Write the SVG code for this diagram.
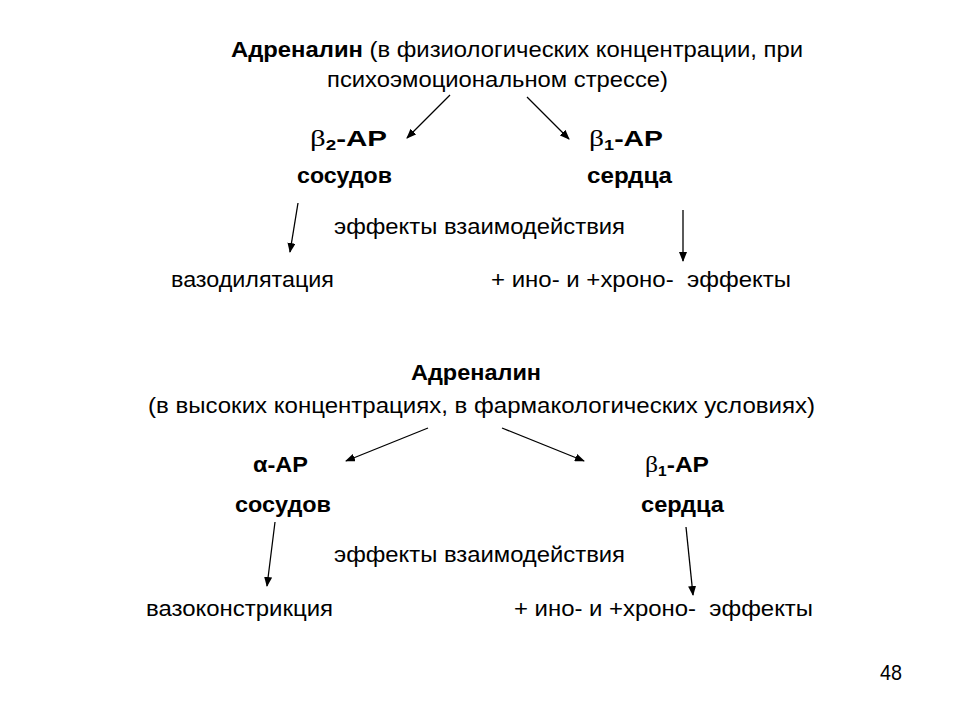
<svg xmlns="http://www.w3.org/2000/svg" width="960" height="720" viewBox="0 0 960 720">
<style>
text{font-family:"Liberation Sans",Arial,sans-serif;font-size:22px;fill:#000}
.b{font-weight:bold}
.g{font-family:"Liberation Serif","Times New Roman",serif;font-weight:normal;font-size:23px}
.s{font-size:14px}
.c line{stroke:#000;stroke-width:1.3;marker-end:url(#ah)}
</style>
<defs>
<marker id="ah" markerWidth="10" markerHeight="8" refX="9" refY="4" orient="auto" markerUnits="userSpaceOnUse">
<path d="M0,0 L10,4 L0,8 Z" fill="#000"/>
</marker>
</defs>
<rect width="960" height="720" fill="#fff"/>
<g id="adr1">
<text x="231" y="57" textLength="572" lengthAdjust="spacingAndGlyphs"><tspan class="b">Адреналин</tspan> (в физиологических концентрации, при</text>
<text x="327" y="87" textLength="341" lengthAdjust="spacingAndGlyphs">психоэмоциональном стрессе)</text>
</g>
<g id="b2">
<text x="310" y="146" class="b" textLength="77" lengthAdjust="spacingAndGlyphs"><tspan class="g">β</tspan><tspan class="s" dy="4">2</tspan><tspan dy="-4">-АР</tspan></text>
<text x="297" y="183" class="b" textLength="95" lengthAdjust="spacingAndGlyphs">сосудов</text>
</g>
<g id="b1top">
<text x="589" y="146" class="b" textLength="74" lengthAdjust="spacingAndGlyphs"><tspan class="g">β</tspan><tspan class="s" dy="4">1</tspan><tspan dy="-4">-АР</tspan></text>
<text x="587" y="183" class="b" textLength="85" lengthAdjust="spacingAndGlyphs">сердца</text>
</g>
<g id="eff1"><text x="334" y="234" textLength="291" lengthAdjust="spacingAndGlyphs">эффекты взаимодействия</text></g>
<g id="vd"><text x="171" y="287" textLength="163" lengthAdjust="spacingAndGlyphs">вазодилятация</text></g>
<g id="ino1"><text x="491" y="287" xml:space="preserve" textLength="300" lengthAdjust="spacingAndGlyphs">+ ино- и +хроно-  эффекты</text></g>
<g id="adr2">
<text x="411" y="380" class="b" textLength="130" lengthAdjust="spacingAndGlyphs">Адреналин</text>
<text x="148" y="413" textLength="667" lengthAdjust="spacingAndGlyphs">(в высоких концентрациях, в фармакологических условиях)</text>
</g>
<g id="alpha">
<text x="253" y="472" class="b" textLength="55" lengthAdjust="spacingAndGlyphs">α-АР</text>
<text x="235" y="512" class="b" textLength="96" lengthAdjust="spacingAndGlyphs">сосудов</text>
</g>
<g id="b1bot">
<text x="645" y="472" class="b" textLength="64" lengthAdjust="spacingAndGlyphs"><tspan class="g">β</tspan><tspan class="s" dy="4">1</tspan><tspan dy="-4">-АР</tspan></text>
<text x="641" y="512" class="b" textLength="83" lengthAdjust="spacingAndGlyphs">сердца</text>
</g>
<g id="eff2"><text x="334" y="562" textLength="291" lengthAdjust="spacingAndGlyphs">эффекты взаимодействия</text></g>
<g id="vc"><text x="146" y="616" textLength="187" lengthAdjust="spacingAndGlyphs">вазоконстрикция</text></g>
<g id="ino2"><text x="514" y="616" xml:space="preserve" textLength="299" lengthAdjust="spacingAndGlyphs">+ ино- и +хроно-  эффекты</text></g>
<g id="page"><text x="880" y="680" textLength="22" lengthAdjust="spacingAndGlyphs">48</text></g>
<g class="c" id="connectors">
<line x1="450" y1="95" x2="407" y2="138"/>
<line x1="527" y1="97" x2="569" y2="139"/>
<line x1="298" y1="203" x2="290" y2="252"/>
<line x1="683" y1="210" x2="683" y2="261"/>
<line x1="428" y1="428" x2="346" y2="461"/>
<line x1="502" y1="428" x2="584" y2="461"/>
<line x1="275" y1="522" x2="267" y2="586"/>
<line x1="686" y1="527" x2="693" y2="595"/>
</g>
</svg>
